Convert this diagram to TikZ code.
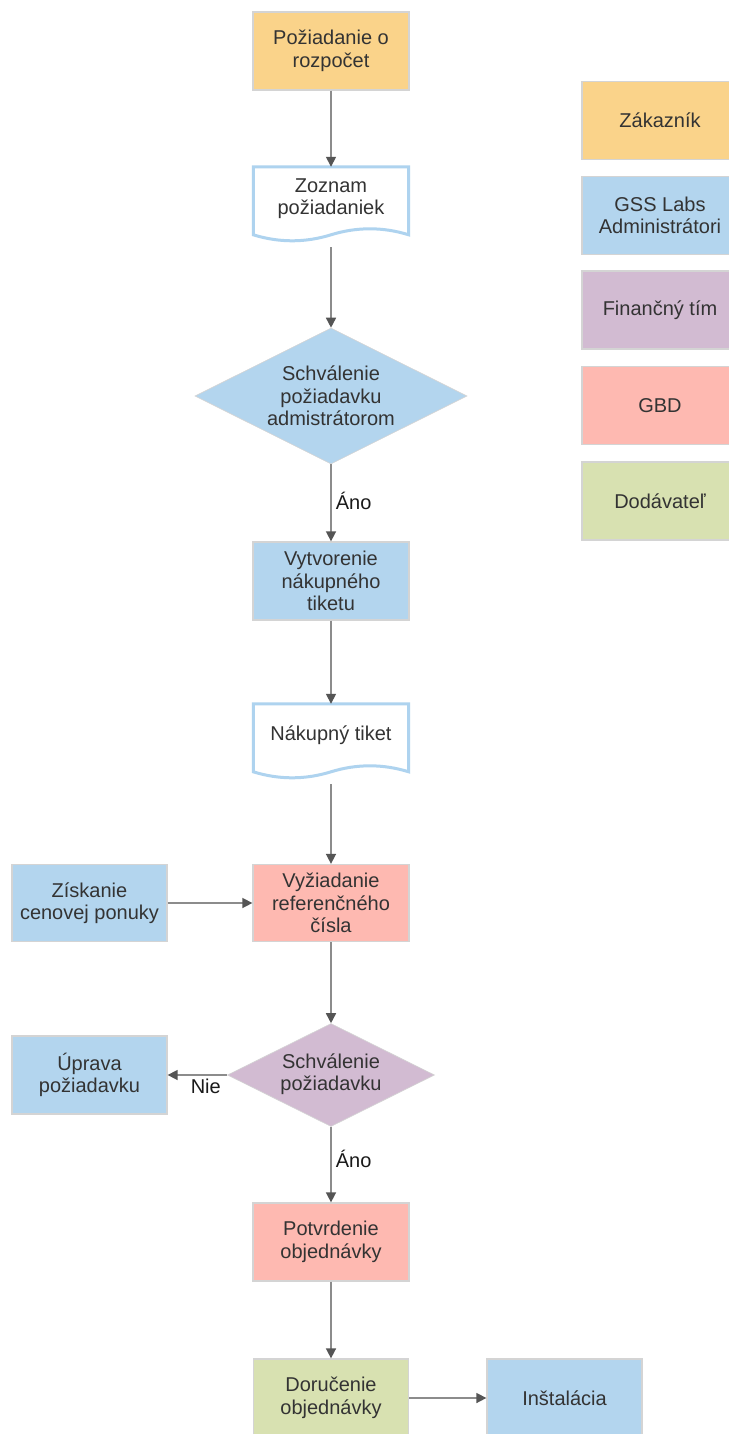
\documentclass[tikz,border=0pt]{standalone}
\usepackage{fontspec}
\setmainfont{Liberation Sans}
\usetikzlibrary{arrows.meta,shapes.geometric,calc}
\definecolor{cOrange}{HTML}{FAD38A}
\definecolor{cBlue}{HTML}{B3D5EE}
\definecolor{cPurple}{HTML}{D2BBD2}
\definecolor{cPink}{HTML}{FEB9B1}
\definecolor{cGreen}{HTML}{D8E1B1}
\definecolor{cBorder}{HTML}{D4D4D4}
\definecolor{cDocLine}{HTML}{AED3EF}
\definecolor{cText}{HTML}{333333}
\definecolor{cLabel}{HTML}{1A1A1A}
\definecolor{cLine}{HTML}{8C8C8C}
\definecolor{cHead}{HTML}{555555}
\newcommand\mydocshape[1]{%
  \draw[docline] (#1.north west) -- (#1.north east) -- ($(#1.north east)+(0,68)$)
    .. controls ($(#1.north east)+(-25.8,60)$) and ($(#1.north)+(25.8,60)$) .. ($(#1.north)+(0,68)$)
    .. controls ($(#1.north)+(-25.8,76)$) and ($(#1.north west)+(25.8,76)$) .. ($(#1.north west)+(0,68)$)
    -- cycle;}
\begin{document}
\begin{tikzpicture}[x=1pt,y=-1pt,
  every node/.style={font=\fontsize{20}{22.5}\selectfont, text=cText},
  box/.style={rectangle, draw=cBorder, line width=1.3pt, minimum width=156pt, minimum height=78pt, inner sep=2pt, align=center},
  docbox/.style={rectangle, draw=none, minimum width=155pt, minimum height=80pt, inner sep=0pt},
  docline/.style={draw=cDocLine, line width=3pt, fill=white, line join=miter},
  dia/.style={diamond, draw=cBorder, line width=0.6pt, inner sep=0pt},
  txt/.style={align=center, inner sep=0pt},
  lbl/.style={text=cLabel, inner sep=4pt},
  arr/.style={draw=cLine, line width=1.6pt, -{Triangle[width=10pt,length=10pt,color=cHead,fill=cHead]}}
]
\fill[white] (0,0) rectangle (728,1434);
\useasboundingbox (0,0) rectangle (728,1434);

% main flow
\node[box, fill=cOrange] (b1) at (331,51) {Požiadanie o\\rozpočet};
\node[docbox] (d1) at (331,207) {};
\mydocshape{d1}
\node[txt] (d1t) at ($(d1.north)+(0,32)$) {Zoznam\\požiadaniek};
\node[dia, fill=cBlue, minimum width=272pt, minimum height=136pt] (q1) at (331,396) {};
\node[txt] (q1t) at (q1) {Schválenie\\požiadavku\\admistrátorom};
\node[box, fill=cBlue] (b2) at (331,581) {Vytvorenie\\nákupného\\tiketu};
\node[docbox] (d2) at (331,744) {};
\mydocshape{d2}
\node[txt] (d2t) at ($(d2.north)+(0,31)$) {Nákupný tiket};
\node[box, fill=cPink, minimum height=77pt] (b3) at (331,903) {Vyžiadanie\\referenčného\\čísla};
\node[box, fill=cBlue, minimum width=155pt, minimum height=77pt] (b4) at (89.5,903) {Získanie\\cenovej ponuky};
\node[dia, fill=cPurple, minimum width=207pt, minimum height=103pt] (q2) at (331,1075) {};
\node[txt] (q2t) at ($(q2)+(0,-1)$) {Schválenie\\požiadavku};
\node[box, fill=cBlue, minimum width=155pt] (b5) at (89.5,1075) {Úprava\\požiadavku};
\node[box, fill=cPink] (b6) at (331,1242) {Potvrdenie\\objednávky};
\node[box, fill=cGreen, minimum width=155pt] (b7) at (331,1398) {Doručenie\\objednávky};
\node[box, fill=cBlue, minimum width=155pt] (b8) at (564.5,1398) {Inštalácia};

% legend
\node[box, fill=cOrange] (l1) at (660,120.5) {Zákazník};
\node[box, fill=cBlue] (l2) at (660,215.5) {GSS Labs\\Administrátori};
\node[box, fill=cPurple] (l3) at (660,310) {Finančný tím};
\node[box, fill=cPink] (l4) at (660,405.5) {GBD};
\node[box, fill=cGreen] (l5) at (660,501) {Dodávateľ};

% connectors
\draw[arr] (b1.south) -- (d1.north);
\draw[arr] (d1.south) -- (q1.north);
\draw[arr] (q1.south) -- node[lbl, right, pos=0.48] (a1) {Áno} (b2.north);
\draw[arr] (b2.south) -- (d2.north);
\draw[arr] (d2.south) -- (b3.north);
\draw[arr] (b4.east) -- (b3.west);
\draw[arr] (b3.south) -- (q2.north);
\draw[arr] (q2.west) -- node[lbl, below, pos=0.36, inner sep=3pt] (n1) {Nie} (b5.east);
\draw[arr] (q2.south) -- node[lbl, right, pos=0.42] (a2) {Áno} (b6.north);
\draw[arr] (b6.south) -- (b7.north);
\draw[arr] (b7.east) -- (b8.west);
\end{tikzpicture}
\end{document}
